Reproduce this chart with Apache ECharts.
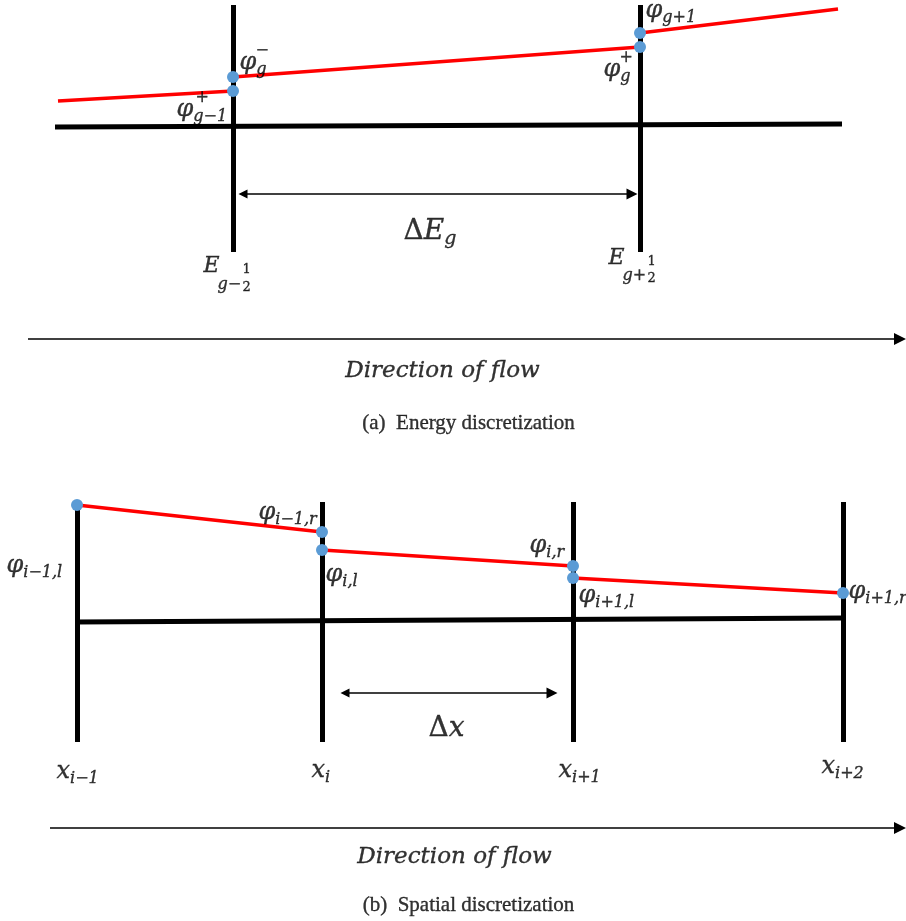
<!DOCTYPE html>
<html>
<head>
<meta charset="utf-8">
<script src="https://cdn.jsdelivr.net/npm/echarts@6/dist/echarts.min.js"></script>
<style>
  html, body { margin: 0; padding: 0; background: #ffffff; }
  #main { width: 906px; height: 921px; }
</style>
</head>
<body>
<div id="main"></div>
<script>
// Diagram units: one unit per pixel of the drawing area, y grows downward.

// ---- (a) energy discretization ----
const energyBoundaryX = [233, 640];
const energyBoundarySpan = [5, 252];
const energyBaseline = [[55, 127], [842, 124]];
const energyFlux = [
  [[58, 101], [233, 91]],
  [[233, 77], [640, 47]],
  [[640, 33], [838, 9]]
];
// arrow shafts end at the centre of their heads
const energyWidthArrow = [[243, 194], [632, 194]];
const energyFlowArrow = [[28, 339], [900, 339]];

// ---- (b) spatial discretization ----
const cellEdgeX = [77, 322, 573, 843];
const cellEdgeTop = [505, 502, 502, 502];
const cellEdgeBottom = 742;
const spatialBaseline = [[75, 622], [845, 618]];
const spatialFlux = [
  [[77, 505], [322, 532]],
  [[322, 550], [573, 566]],
  [[573, 578], [843, 593]]
];
const spatialWidthArrow = [[345, 693], [552, 693]];
const spatialFlowArrow = [[50, 828], [900, 828]];

// ---- labels (left edge, vertical centre, rich text) ----
const energyLabels = [
  [240, 63, '{m|φ}{s|g}'],
  [256, 51, '{s|−}'],
  [177, 110, '{m|φ}{s|g−1}'],
  [196, 98, '{s|+}'],
  [604, 70, '{m|φ}{s|g}'],
  [620, 58, '{s|+}'],
  [646, 11, '{m|φ}{s|g+1}'],
  [654, 0, '{s|−}'],
  [204, 267, '{e|E}'],
  [218, 285, '{s|g−}'],
  [243, 270, '{f|1}'],
  [243, 288, '{f|2}'],
  [609, 259, '{e|E}'],
  [623, 276, '{s|g+}'],
  [648, 262, '{f|1}'],
  [648, 279, '{f|2}'],
  [404, 232, '{D|Δ}{L|E}{S|g}']
];
const spatialLabels = [
  [7, 566, '{m|φ}{s|i−1,l}'],
  [259, 513, '{m|φ}{s|i−1,r}'],
  [326, 575, '{m|φ}{s|i,l}'],
  [530, 546, '{m|φ}{s|i,r}'],
  [579, 596, '{m|φ}{s|i+1,l}'],
  [849, 592, '{m|φ}{s|i+1,r}'],
  [57, 772, '{m|x}{s|i−1}'],
  [312, 771, '{m|x}{s|i}'],
  [559, 771, '{m|x}{s|i+1}'],
  [822, 767, '{m|x}{s|i+2}'],
  [429, 729, '{D|Δ}{L|x}']
];
// ---- centred texts ----
const centredTexts = [
  [443, 372, '{i|Direction of flow}'],
  [469, 424, '{c|(a)  Energy discretization}'],
  [455, 858, '{i|Direction of flow}'],
  [469, 906, '{c|(b)  Spatial discretization}']
];

const MATH = 'DejaVu Serif';
const TEXT = 'Liberation Serif';
const INK = '#000000';
const ink = { color: INK, textBorderColor: INK, textBorderWidth: 0.35 };
const rich = {
  m: { fontFamily: MATH, fontStyle: 'italic', fontSize: 24, lineHeight: 30, ...ink },
  s: { fontFamily: MATH, fontStyle: 'italic', fontSize: 16, lineHeight: 16, verticalAlign: 'bottom', ...ink },
  e: { fontFamily: MATH, fontStyle: 'italic', fontSize: 22, lineHeight: 26, ...ink },
  f: { fontFamily: MATH, fontSize: 13, lineHeight: 13, ...ink },
  D: { fontFamily: MATH, fontSize: 28, lineHeight: 34, ...ink },
  L: { fontFamily: MATH, fontStyle: 'italic', fontSize: 28, lineHeight: 34, ...ink },
  S: { fontFamily: MATH, fontStyle: 'italic', fontSize: 19, lineHeight: 19, verticalAlign: 'bottom', ...ink },
  i: { fontFamily: MATH, fontStyle: 'italic', fontSize: 23, lineHeight: 28, ...ink },
  c: { fontFamily: TEXT, fontSize: 21, lineHeight: 26, ...ink }
};

// ---- build marks ----
const seg = (a, b) => ({ coords: [a, b] });

const blackBars = [
  seg(energyBaseline[0], energyBaseline[1]),
  ...energyBoundaryX.map(x => seg([x, energyBoundarySpan[0]], [x, energyBoundarySpan[1]])),
  seg(spatialBaseline[0], spatialBaseline[1]),
  ...cellEdgeX.map((x, k) => seg([x, cellEdgeTop[k]], [x, cellEdgeBottom]))
];

const fluxSegments = [...energyFlux, ...spatialFlux].map(s => seg(s[0], s[1]));

// interface values: ends of the flux segments that meet a boundary
const energyDots = [energyFlux[0][1], energyFlux[1][0], energyFlux[1][1], energyFlux[2][0]];
const spatialDots = [
  spatialFlux[0][0], spatialFlux[0][1],
  spatialFlux[1][0], spatialFlux[1][1],
  spatialFlux[2][0], spatialFlux[2][1]
];

const leftLabel = row => ({
  value: [row[0], row[1]],
  label: { formatter: row[2], align: 'left', verticalAlign: 'middle' }
});
const centreLabel = row => ({
  value: [row[0], row[1]],
  label: { formatter: row[2], align: 'center', verticalAlign: 'middle' }
});

const chart = echarts.init(document.getElementById('main'), null, { renderer: 'canvas' });
chart.setOption({
  backgroundColor: '#ffffff',
  animation: false,
  grid: { left: 0, right: 0, top: 0, bottom: 0 },
  xAxis: { type: 'value', min: 0, max: 906, show: false },
  yAxis: { type: 'value', min: 0, max: 921, inverse: true, show: false },
  series: [
    {
      type: 'lines', coordinateSystem: 'cartesian2d', z: 2,
      lineStyle: { color: INK, width: 5, opacity: 1, cap: 'butt' },
      data: blackBars
    },
    {
      type: 'lines', coordinateSystem: 'cartesian2d', z: 3,
      lineStyle: { color: '#ff0000', width: 3.5, opacity: 1, cap: 'butt' },
      data: fluxSegments
    },
    {
      type: 'lines', coordinateSystem: 'cartesian2d', z: 2,
      symbol: ['triangle', 'triangle'], symbolSize: [9, 11],
      lineStyle: { color: INK, width: 1.5, opacity: 1 },
      data: [seg(energyWidthArrow[0], energyWidthArrow[1]), seg(spatialWidthArrow[0], spatialWidthArrow[1])]
    },
    {
      type: 'lines', coordinateSystem: 'cartesian2d', z: 2,
      symbol: ['none', 'triangle'], symbolSize: [10, 12],
      lineStyle: { color: INK, width: 1.5, opacity: 1 },
      data: [seg(energyFlowArrow[0], energyFlowArrow[1]), seg(spatialFlowArrow[0], spatialFlowArrow[1])]
    },
    {
      type: 'scatter', z: 4, symbolSize: 12,
      itemStyle: { color: '#5b9bd5', opacity: 1 },
      data: [...energyDots, ...spatialDots]
    },
    {
      type: 'scatter', z: 5, symbolSize: 1, silent: true,
      itemStyle: { color: 'rgba(0,0,0,0)' },
      label: { show: true, position: [0, 0], color: INK, rich: rich },
      data: [...energyLabels, ...spatialLabels].map(leftLabel).concat(centredTexts.map(centreLabel))
    }
  ]
});
</script>
</body>
</html>
